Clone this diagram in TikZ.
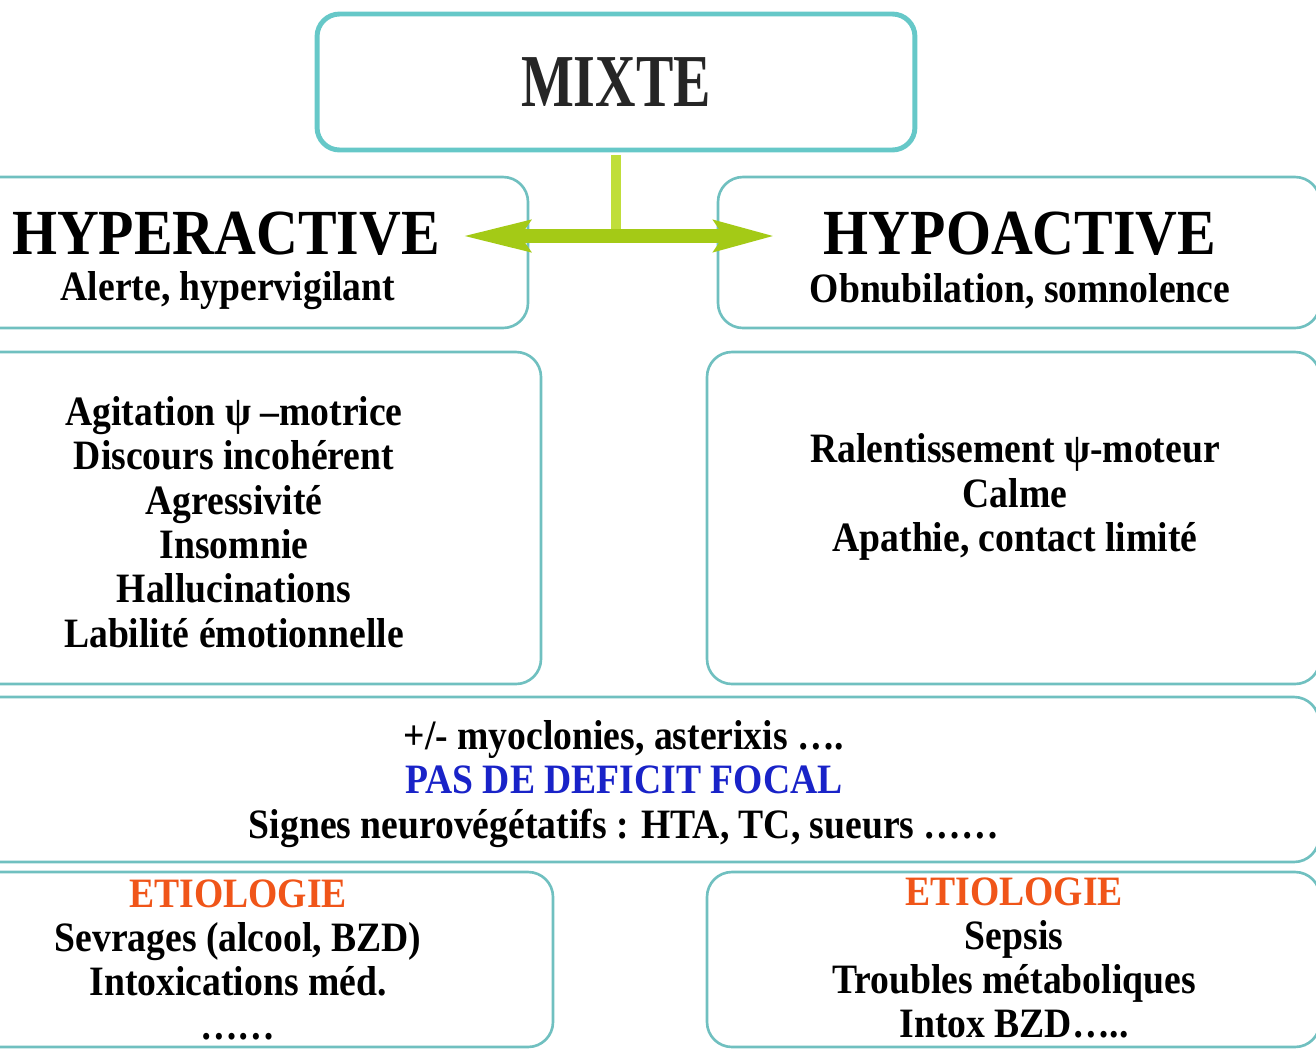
\documentclass[tikz,border=0pt]{standalone}
\usepackage{fontspec}
\setmainfont{Liberation Serif}[FakeStretch=0.9]
\newfontfamily\mixfont{Liberation Serif}[FakeStretch=0.75]
\usepackage{xcolor}
\usetikzlibrary{arrows.meta}

\definecolor{tealline}{RGB}{102,200,200}
\definecolor{boxline}{RGB}{112,192,192}
\definecolor{arrowgreen}{RGB}{164,202,22}
\definecolor{stemgreen}{RGB}{192,222,58}
\definecolor{focalblue}{RGB}{25,35,200}
\definecolor{etiored}{RGB}{240,85,25}

\tikzset{
panel/.style={draw=boxline, line width=1.5pt, rounded corners=0.5cm, fill=white},
mixbox/.style={draw=tealline, line width=2.8pt, rounded corners=0.45cm, fill=white,
  minimum width=11.96cm, minimum height=2.72cm,
  font=\mixfont\fontsize{42.5}{46}\selectfont\bfseries, text=black!85},
txt/.style={font=\fontsize{23.8}{25.2}\selectfont\bfseries, align=center, inner sep=0pt},
title/.style={font=\fontsize{36.6}{40}\selectfont\bfseries, inner sep=0pt},
}

\begin{document}
\begin{tikzpicture}[x=0.02cm, y=-0.02cm]
\useasboundingbox (0,0) rectangle (1316,1049);
\clip (0,0) rectangle (1316,1049);

% cadres
\draw[panel] (-80,177) rectangle (528,328);
\draw[panel] (718,177) rectangle (1320,328);
\draw[panel] (-80,352) rectangle (541,684);
\draw[panel] (707,352) rectangle (1320,684);
\draw[panel] (-80,697) rectangle (1319,862);
\draw[panel] (-80,872) rectangle (553,1047);
\draw[panel] (707,872) rectangle (1320,1047);

\node[mixbox] (mixte) at (616,82) {MIXTE};

\coordinate (fork) at (616,236);
\coordinate (lefttip) at (462,236);
\coordinate (righttip) at (775,236);

\draw[stemgreen, line width=6.2pt] ([yshift=-1.4pt]mixte.south) -- (fork);
\draw[arrowgreen, line width=7.6pt,
  {Stealth[length=38pt,width=17pt,inset=5pt]}-{Stealth[length=34pt,width=17pt,inset=5pt]}]
  (lefttip) -- (righttip);

\node[title] (hyper) at (226,234) {HYPERACTIVE};
\node[txt] (hypersub) at (228,291) {Alerte, hypervigilant};
\node[title] (hypo) at (1020,234) {HYPOACTIVE};
\node[txt] (hyposub) at (1020,291) {Obnubilation, somnolence};

\node[txt] (hyperlist) at (234,522) {Agitation ψ –motrice\\Discours incohérent\\Agressivité\\Insomnie\\Hallucinations\\Labilité émotionnelle};
\node[txt] (hypolist) at (1015,497) {Ralentissement ψ-moteur\\Calme\\Apathie, contact limité};

\node[txt] (signs) at (624,784) {+/- myoclonies, asterixis ….\\\textcolor{focalblue}{PAS DE DEFICIT FOCAL}\\Signes neurovégétatifs : HTA, TC, sueurs ……};

\node[txt, font=\fontsize{23.8}{25}\selectfont\bfseries] (etioleft) at (238,960) {\textcolor{etiored}{ETIOLOGIE}\\Sevrages (alcool, BZD)\\Intoxications méd.\\……};
\node[txt, font=\fontsize{23.8}{25}\selectfont\bfseries] (etioright) at (1014,958) {\textcolor{etiored}{ETIOLOGIE}\\Sepsis\\Troubles métaboliques\\Intox BZD…..};

\end{tikzpicture}
\end{document}
